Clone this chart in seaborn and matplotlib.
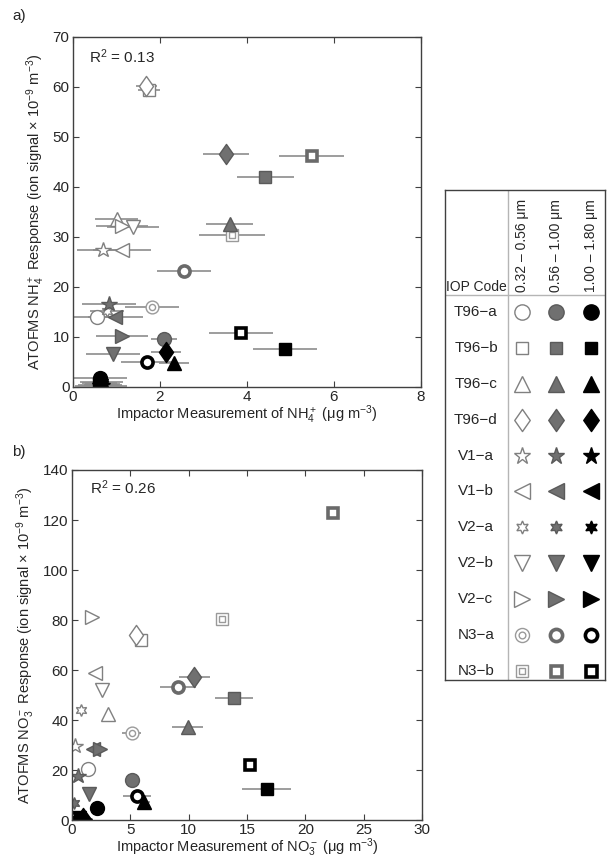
import numpy as np
import matplotlib
matplotlib.use("Agg")
import matplotlib.pyplot as plt
from matplotlib.path import Path
import seaborn as sns

sns.set_style("ticks")
plt.rcParams['font.family'] = ['Liberation Sans', 'DejaVu Sans']
plt.rcParams['mathtext.fontset'] = 'custom'
plt.rcParams['mathtext.rm'] = 'Liberation Sans'
plt.rcParams['mathtext.it'] = 'Liberation Sans:italic'

# IOP codes and size bins
codes = ['T96-a', 'T96-b', 'T96-c', 'T96-d', 'V1-a', 'V1-b',
         'V2-a', 'V2-b', 'V2-c', 'N3-a', 'N3-b']
size_bins = ['0.32 \u2013 0.56 \u03bcm', '0.56 \u2013 1.00 \u03bcm', '1.00 \u2013 1.80 \u03bcm']

# panel a: ammonium (impactor x, ATOFMS y, impactor half error)
nh4_x_small = [0.55, 1.75, 1.0, 1.68, 0.69, 1.13, 0.78, 1.38, 1.13, 1.82, 3.66]
nh4_y_small = [14.0, 59.4, 33.6, 60.2, 27.4, 27.4, 15.2, 32.0, 32.2, 16.0, 30.4]
nh4_e_small = [0.6, 0.26, 0.5, 0.24, 0.6, 0.66, 0.4, 0.6, 0.6, 0.62, 0.76]

nh4_x_mid = [2.1, 4.42, 3.6, 3.52, 0.83, 0.97, 0.65, 0.92, 1.13, 2.55, 5.49]
nh4_y_mid = [9.6, 42.0, 32.6, 46.6, 16.6, 14.0, 1.0, 6.6, 10.2, 23.2, 46.2]
nh4_e_mid = [0.3, 0.65, 0.54, 0.53, 0.62, 0.63, 0.5, 0.63, 0.6, 0.62, 0.75]

nh4_x_large = [0.62, 4.87, 2.32, 2.14, 0.66, 0.6, 0.68, 0.64, 0.62, 1.7, 3.86]
nh4_y_large = [1.8, 7.6, 4.8, 7.0, 0.3, 0.8, 0.6, 0.2, 0.4, 5.0, 10.8]
nh4_e_large = [0.62, 0.73, 0.35, 0.34, 0.4, 0.4, 0.4, 0.6, 0.5, 0.6, 0.73]

# panel b: nitrate
no3_x_small = [1.4, 5.9, 3.1, 5.47, 0.26, 1.97, 0.77, 2.6, 1.7, 5.1, 12.9]
no3_y_small = [20.4, 72.0, 42.4, 74.0, 29.6, 58.8, 44.0, 52.0, 81.2, 34.8, 80.4]
no3_e_small = [0, 0.5, 0, 0, 0, 0, 0, 0, 0, 0.85, 0]

no3_x_mid = [5.1, 13.9, 9.9, 10.5, 0.5, 1.8, 0.15, 1.45, 2.4, 9.1, 22.4]
no3_y_mid = [16.0, 49.0, 37.2, 57.2, 17.6, 28.4, 7.0, 10.4, 28.4, 53.2, 122.8]
no3_e_mid = [0, 1.65, 1.3, 1.3, 0, 0.4, 0, 0, 0, 1.55, 0]

no3_x_large = [2.1, 16.7, 6.2, 0.9, 0.5, 0.3, 0.8, 0.6, 1.1, 5.55, 15.3]
no3_y_large = [4.8, 12.4, 7.2, 0.8, 0.6, 1.0, 0.4, 0.8, 0.5, 9.6, 22.0]
no3_e_large = [0, 2.1, 0.5, 0, 0, 0, 0, 0, 0, 1.2, 0]

# marker styling
diamond = Path([(0, 1), (0.7, 0), (0, -1), (-0.7, 0), (0, 1)],
               [Path.MOVETO, Path.LINETO, Path.LINETO, Path.LINETO, Path.CLOSEPOLY])
marker_of = {'T96-a': 'o', 'T96-b': 's', 'T96-c': '^', 'T96-d': diamond,
             'V1-a': '*', 'V1-b': '<', 'V2-a': (6, 1, 0), 'V2-b': 'v',
             'V2-c': '>', 'N3-a': 'o', 'N3-b': 's'}
scale_of = {'T96-a': 1.0, 'T96-b': 0.85, 'T96-c': 1.0, 'T96-d': 1.45,
            'V1-a': 1.15, 'V1-b': 1.0, 'V2-a': 0.85, 'V2-b': 1.0, 'V2-c': 1.0,
            'N3-a': 0.8, 'N3-b': 0.72}
face = ['white', '#707070', 'black']
edge = ['#808080', '#5a5a5a', 'black']
ring_edge = ['#9a9a9a', '#6a6a6a', 'black']
spine_col = '#404040'


def draw_mark(ax, x, y, code, k, ms, clip=True):
    m = marker_of[code]
    s = scale_of[code]
    if code.startswith('N3'):
        if k == 0:
            ax.plot(x, y, m, ms=ms * s * 1.15, mfc='white', mec=ring_edge[k], mew=1.0, clip_on=clip)
            ax.plot(x, y, m, ms=ms * s * 0.55, mfc='white', mec=ring_edge[k], mew=1.0, clip_on=clip)
        else:
            ax.plot(x, y, m, ms=ms * s, mfc='white', mec=ring_edge[k], mew=2.6, clip_on=clip)
        return
    ax.plot(x, y, marker=m, ls='none', ms=ms * s, mfc=face[k], mec=edge[k],
            mew=1.0, clip_on=clip)


def draw_panel(ax, xs, ys, es):
    for k in range(3):
        ax.errorbar(xs[k], ys[k], xerr=es[k], fmt='none', ecolor='#8c8c8c',
                    elinewidth=1.2, capsize=0, zorder=1)
    for k in range(3):
        for i, code in enumerate(codes):
            draw_mark(ax, xs[k][i], ys[k][i], code, k, 10)


def style_axes(ax):
    for sp in ax.spines.values():
        sp.set_visible(True)
        sp.set_color(spine_col)
        sp.set_linewidth(1.0)
    ax.tick_params(direction='in', top=True, right=True, length=4,
                   labelsize=11, color=spine_col, pad=2.5)


fig = plt.figure(figsize=(6.09, 8.59), dpi=100)
W, H = 609, 859

ax_a = fig.add_axes([73 / W, 1 - 387 / H, 348 / W, 350 / H])
draw_panel(ax_a, [nh4_x_small, nh4_x_mid, nh4_x_large],
           [nh4_y_small, nh4_y_mid, nh4_y_large],
           [nh4_e_small, nh4_e_mid, nh4_e_large])
ax_a.set_xlim(0, 8)
ax_a.set_ylim(0, 70)
ax_a.set_xticks(np.arange(0, 9, 2))
ax_a.set_yticks(np.arange(0, 71, 10))
style_axes(ax_a)
ax_a.set_xlabel('Impactor Measurement of NH$_4^+$ (\u03bcg m$^{-3}$)', fontsize=10.5, labelpad=-1)
ax_a.set_ylabel('ATOFMS NH$_4^+$ Response (ion signal \u00d7 10$^{-9}$ m$^{-3}$)', fontsize=10.5, labelpad=4)
ax_a.text(0.046, 0.945, 'R$^2$ = 0.13', transform=ax_a.transAxes, fontsize=11, va='center')

ax_b = fig.add_axes([72 / W, 1 - 820 / H, 350 / W, 350 / H])
draw_panel(ax_b, [no3_x_small, no3_x_mid, no3_x_large],
           [no3_y_small, no3_y_mid, no3_y_large],
           [no3_e_small, no3_e_mid, no3_e_large])
ax_b.set_xlim(0, 30)
ax_b.set_ylim(0, 140)
ax_b.set_xticks(np.arange(0, 31, 5))
ax_b.set_yticks(np.arange(0, 141, 20))
style_axes(ax_b)
ax_b.set_xlabel('Impactor Measurement of NO$_3^-$ (\u03bcg m$^{-3}$)', fontsize=10.5, labelpad=-1)
ax_b.set_ylabel('ATOFMS NO$_3^-$ Response (ion signal \u00d7 10$^{-9}$ m$^{-3}$)', fontsize=10.5, labelpad=4)
ax_b.text(0.05, 0.95, 'R$^2$ = 0.26', transform=ax_b.transAxes, fontsize=11, va='center')

fig.text(12 / W, 1 - 16 / H, 'a)', fontsize=11, va='center')
fig.text(12 / W, 1 - 452 / H, 'b)', fontsize=11, va='center')

# symbol key table
top, bottom, left, right = 190, 680, 445, 605
ax_l = fig.add_axes([left / W, 1 - bottom / H, (right - left) / W, (bottom - top) / H])
ax_l.set_xlim(left, right)
ax_l.set_ylim(bottom, top)
ax_l.set_xticks([])
ax_l.set_yticks([])
for sp in ax_l.spines.values():
    sp.set_color(spine_col)
    sp.set_linewidth(1.0)
ax_l.axvline(508, color='#b5b5b5', lw=1)
ax_l.axhline(295, color='#b5b5b5', lw=1)
ax_l.text(476, 287, 'IOP Code', ha='center', va='center', fontsize=10)
col_x = [522, 556, 591]
for k, lab in enumerate(size_bins):
    ax_l.text(col_x[k], 292, lab, rotation=90, ha='center', va='bottom', fontsize=10)
for i, code in enumerate(codes):
    ry = 312 + 35.9 * i
    ax_l.text(476, ry, code.replace('-', '\u2212'), ha='center', va='center', fontsize=11)
    for k in range(3):
        draw_mark(ax_l, col_x[k], ry, code, k, 11, clip=False)

fig.savefig('out.png', dpi=100)
